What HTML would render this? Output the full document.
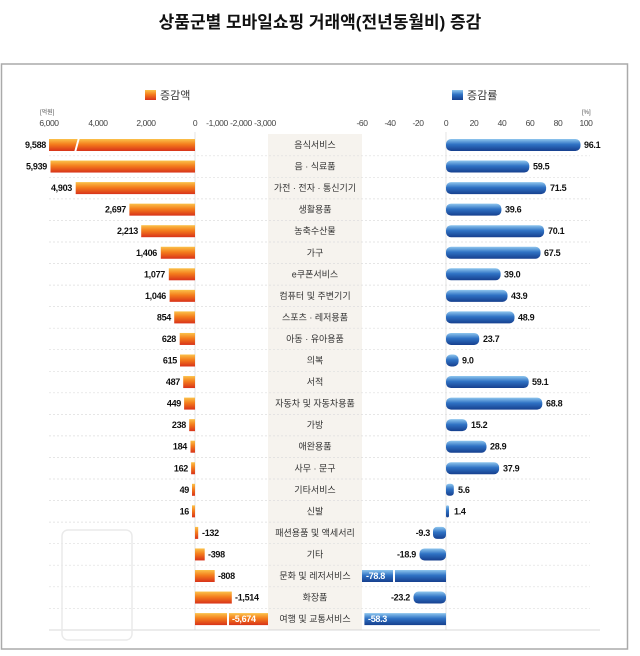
<!DOCTYPE html>
<html><head><meta charset="utf-8"><style>
body{margin:0;background:#fff;width:640px;height:656px;overflow:hidden}
svg{display:block;font-family:"Liberation Sans","Noto Sans CJK KR",sans-serif}
.v{font-size:9px;fill:#111;letter-spacing:-0.3px;font-weight:bold}
.c{font-size:9px;fill:#333;text-anchor:middle}
.t{font-size:8.5px;fill:#444;text-anchor:middle;letter-spacing:-0.4px}
</style></head><body>
<svg width="640" height="656" viewBox="0 0 640 656">
<defs>
<linearGradient id="o" x1="0" y1="0" x2="0" y2="1"><stop offset="0" stop-color="#fbc24a"/><stop offset="0.45" stop-color="#f47c1c"/><stop offset="1" stop-color="#d8321a"/></linearGradient>
<linearGradient id="b" x1="0" y1="0" x2="0" y2="1"><stop offset="0" stop-color="#8fc6ee"/><stop offset="0.45" stop-color="#2f72c4"/><stop offset="1" stop-color="#163f8e"/></linearGradient>
</defs>
<text x="320" y="28" text-anchor="middle" font-size="17" font-weight="bold" fill="#111">상품군별 모바일쇼핑 거래액(전년동월비) 증감</text>
<rect x="1.5" y="64" width="626" height="585" fill="none" stroke="#aaa" stroke-width="1.5"/>
<rect x="145" y="90" width="11" height="10" fill="url(#o)"/><text x="160" y="99" font-size="11" fill="#333">증감액</text>
<rect x="452" y="90" width="11" height="10" fill="url(#b)"/><text x="467" y="99" font-size="11" fill="#333">증감률</text>
<text x="40" y="114" font-size="6" fill="#555">[억원]</text><text x="582" y="114" font-size="6" fill="#555">[%]</text>
<g class="t" font-size="8">
<text x="49" y="126">6,000</text><text x="98" y="126">4,000</text><text x="146" y="126">2,000</text><text x="195" y="126">0</text><text x="217" y="126">-1,000</text><text x="241" y="126">-2,000</text><text x="265" y="126">-3,000</text>
<text x="362" y="126">-60</text><text x="390" y="126">-40</text><text x="418" y="126">-20</text><text x="446" y="126">0</text><text x="474" y="126">20</text><text x="502" y="126">40</text><text x="530" y="126">60</text><text x="558" y="126">80</text><text x="586" y="126">100</text>
</g>
<rect x="268" y="134" width="94" height="496" fill="#f6f3ee"/>
<g stroke="#ddd" stroke-width="0.8">
<line x1="195" y1="132" x2="195" y2="630"/><line x1="446" y1="132" x2="446" y2="630"/>
<line x1="49" y1="630" x2="600" y2="630" stroke="#ccc"/>
</g>
<g stroke="#ddd" stroke-width="0.7" stroke-dasharray="2,2">
<line x1="49" y1="155.8" x2="590" y2="155.8"/><line x1="49" y1="177.3" x2="590" y2="177.3"/><line x1="49" y1="198.9" x2="590" y2="198.9"/><line x1="49" y1="220.4" x2="590" y2="220.4"/><line x1="49" y1="242" x2="590" y2="242"/><line x1="49" y1="263.5" x2="590" y2="263.5"/><line x1="49" y1="285.1" x2="590" y2="285.1"/><line x1="49" y1="306.6" x2="590" y2="306.6"/><line x1="49" y1="328.2" x2="590" y2="328.2"/><line x1="49" y1="349.7" x2="590" y2="349.7"/><line x1="49" y1="371.3" x2="590" y2="371.3"/><line x1="49" y1="392.8" x2="590" y2="392.8"/><line x1="49" y1="414.4" x2="590" y2="414.4"/><line x1="49" y1="435.9" x2="590" y2="435.9"/><line x1="49" y1="457.5" x2="590" y2="457.5"/><line x1="49" y1="479" x2="590" y2="479"/><line x1="49" y1="500.6" x2="590" y2="500.6"/><line x1="49" y1="522.1" x2="590" y2="522.1"/><line x1="49" y1="543.7" x2="590" y2="543.7"/><line x1="49" y1="565.2" x2="590" y2="565.2"/><line x1="49" y1="586.8" x2="590" y2="586.8"/><line x1="49" y1="608.3" x2="590" y2="608.3"/>
</g>
<g fill="none" stroke="#eaeaea" stroke-width="1.5"><rect x="62" y="530" width="70" height="110" rx="6"/></g>

<g transform="translate(0,145)"><rect x="49" y="-6" width="146" height="12" fill="url(#o)"/><rect x="76" y="-7" width="2" height="14" fill="#fff" transform="skewX(-15)"/><text class="v" x="46" y="3" text-anchor="end">9,588</text><text class="c" x="315" y="3">음식서비스</text><rect x="446" y="-6" width="134.5" height="12" rx="5" fill="url(#b)"/><text class="v" x="584" y="3">96.1</text></g>
<g transform="translate(0,166.55)"><rect x="50.5" y="-6" width="144.5" height="12" fill="url(#o)"/><text class="v" x="47" y="3" text-anchor="end">5,939</text><text class="c" x="315" y="3">음 · 식료품</text><rect x="446" y="-6" width="83.3" height="12" rx="5" fill="url(#b)"/><text class="v" x="533" y="3">59.5</text></g>
<g transform="translate(0,188.1)"><rect x="75.7" y="-6" width="119.3" height="12" fill="url(#o)"/><text class="v" x="72" y="3" text-anchor="end">4,903</text><text class="c" x="315" y="3">가전 · 전자 · 통신기기</text><rect x="446" y="-6" width="100.1" height="12" rx="5" fill="url(#b)"/><text class="v" x="550" y="3">71.5</text></g>
<g transform="translate(0,209.65)"><rect x="129.4" y="-6" width="65.6" height="12" fill="url(#o)"/><text class="v" x="126" y="3" text-anchor="end">2,697</text><text class="c" x="315" y="3">생활용품</text><rect x="446" y="-6" width="55.4" height="12" rx="5" fill="url(#b)"/><text class="v" x="505" y="3">39.6</text></g>
<g transform="translate(0,231.2)"><rect x="141.2" y="-6" width="53.8" height="12" fill="url(#o)"/><text class="v" x="138" y="3" text-anchor="end">2,213</text><text class="c" x="315" y="3">농축수산물</text><rect x="446" y="-6" width="98.1" height="12" rx="5" fill="url(#b)"/><text class="v" x="548" y="3">70.1</text></g>
<g transform="translate(0,252.75)"><rect x="160.8" y="-6" width="34.2" height="12" fill="url(#o)"/><text class="v" x="157" y="3" text-anchor="end">1,406</text><text class="c" x="315" y="3">가구</text><rect x="446" y="-6" width="94.5" height="12" rx="5" fill="url(#b)"/><text class="v" x="544" y="3">67.5</text></g>
<g transform="translate(0,274.3)"><rect x="168.8" y="-6" width="26.2" height="12" fill="url(#o)"/><text class="v" x="165" y="3" text-anchor="end">1,077</text><text class="c" x="315" y="3">e쿠폰서비스</text><rect x="446" y="-6" width="54.6" height="12" rx="5" fill="url(#b)"/><text class="v" x="504" y="3">39.0</text></g>
<g transform="translate(0,295.85)"><rect x="169.6" y="-6" width="25.4" height="12" fill="url(#o)"/><text class="v" x="166" y="3" text-anchor="end">1,046</text><text class="c" x="315" y="3">컴퓨터 및 주변기기</text><rect x="446" y="-6" width="61.5" height="12" rx="5" fill="url(#b)"/><text class="v" x="511" y="3">43.9</text></g>
<g transform="translate(0,317.4)"><rect x="174.2" y="-6" width="20.8" height="12" fill="url(#o)"/><text class="v" x="171" y="3" text-anchor="end">854</text><text class="c" x="315" y="3">스포츠 · 레저용품</text><rect x="446" y="-6" width="68.5" height="12" rx="5" fill="url(#b)"/><text class="v" x="518" y="3">48.9</text></g>
<g transform="translate(0,338.95)"><rect x="179.7" y="-6" width="15.3" height="12" fill="url(#o)"/><text class="v" x="176" y="3" text-anchor="end">628</text><text class="c" x="315" y="3">아동 · 유아용품</text><rect x="446" y="-6" width="33.2" height="12" rx="5" fill="url(#b)"/><text class="v" x="483" y="3">23.7</text></g>
<g transform="translate(0,360.5)"><rect x="180" y="-6" width="15" height="12" fill="url(#o)"/><text class="v" x="177" y="3" text-anchor="end">615</text><text class="c" x="315" y="3">의복</text><rect x="446" y="-6" width="12.6" height="12" rx="5" fill="url(#b)"/><text class="v" x="462" y="3">9.0</text></g>
<g transform="translate(0,382.05)"><rect x="183.2" y="-6" width="11.8" height="12" fill="url(#o)"/><text class="v" x="180" y="3" text-anchor="end">487</text><text class="c" x="315" y="3">서적</text><rect x="446" y="-6" width="82.7" height="12" rx="5" fill="url(#b)"/><text class="v" x="532" y="3">59.1</text></g>
<g transform="translate(0,403.6)"><rect x="184.1" y="-6" width="10.9" height="12" fill="url(#o)"/><text class="v" x="181" y="3" text-anchor="end">449</text><text class="c" x="315" y="3">자동차 및 자동차용품</text><rect x="446" y="-6" width="96.3" height="12" rx="5" fill="url(#b)"/><text class="v" x="546" y="3">68.8</text></g>
<g transform="translate(0,425.15)"><rect x="189.2" y="-6" width="5.8" height="12" fill="url(#o)"/><text class="v" x="186" y="3" text-anchor="end">238</text><text class="c" x="315" y="3">가방</text><rect x="446" y="-6" width="21.3" height="12" rx="5" fill="url(#b)"/><text class="v" x="471" y="3">15.2</text></g>
<g transform="translate(0,446.7)"><rect x="190.5" y="-6" width="4.5" height="12" fill="url(#o)"/><text class="v" x="187" y="3" text-anchor="end">184</text><text class="c" x="315" y="3">애완용품</text><rect x="446" y="-6" width="40.5" height="12" rx="5" fill="url(#b)"/><text class="v" x="490" y="3">28.9</text></g>
<g transform="translate(0,468.25)"><rect x="191.1" y="-6" width="3.9" height="12" fill="url(#o)"/><text class="v" x="188" y="3" text-anchor="end">162</text><text class="c" x="315" y="3">사무 · 문구</text><rect x="446" y="-6" width="53.1" height="12" rx="5" fill="url(#b)"/><text class="v" x="503" y="3">37.9</text></g>
<g transform="translate(0,489.8)"><rect x="192" y="-6" width="3" height="12" fill="url(#o)"/><text class="v" x="189" y="3" text-anchor="end">49</text><text class="c" x="315" y="3">기타서비스</text><rect x="446" y="-6" width="7.8" height="12" rx="3" fill="url(#b)"/><text class="v" x="458" y="3">5.6</text></g>
<g transform="translate(0,511.35)"><rect x="192" y="-6" width="3" height="12" fill="url(#o)"/><text class="v" x="189" y="3" text-anchor="end">16</text><text class="c" x="315" y="3">신발</text><rect x="446" y="-6" width="3" height="12" rx="1.5" fill="url(#b)"/><text class="v" x="454" y="3">1.4</text></g>
<g transform="translate(0,532.9)"><rect x="195" y="-6" width="3.2" height="12" fill="url(#o)"/><text class="v" x="202" y="3">-132</text><text class="c" x="315" y="3">패션용품 및 액세서리</text><rect x="433" y="-6" width="13" height="12" rx="4" fill="url(#b)"/><text class="v" x="430" y="3" text-anchor="end">-9.3</text></g>
<g transform="translate(0,554.45)"><rect x="195" y="-6" width="9.7" height="12" fill="url(#o)"/><text class="v" x="208" y="3">-398</text><text class="c" x="315" y="3">기타</text><rect x="419.5" y="-6" width="26.5" height="12" rx="5" fill="url(#b)"/><text class="v" x="416" y="3" text-anchor="end">-18.9</text></g>
<g transform="translate(0,576)"><rect x="195" y="-6" width="19.7" height="12" fill="url(#o)"/><text class="v" x="218" y="3">-808</text><text class="c" x="315" y="3">문화 및 레저서비스</text><rect x="362" y="-6" width="84" height="12" fill="url(#b)"/><rect x="393" y="-7" width="2" height="14" fill="#fff"/><text class="v" x="366" y="3" style="fill:#fff">-78.8</text></g>
<g transform="translate(0,597.55)"><rect x="195" y="-6" width="36.8" height="12" fill="url(#o)"/><text class="v" x="235" y="3">-1,514</text><text class="c" x="315" y="3">화장품</text><rect x="413.5" y="-6" width="32.5" height="12" rx="5" fill="url(#b)"/><text class="v" x="410" y="3" text-anchor="end">-23.2</text></g>
<g transform="translate(0,619.1)"><rect x="195" y="-6" width="73" height="12" fill="url(#o)"/><rect x="227" y="-7" width="2" height="14" fill="#fff"/><text class="v" x="232" y="3" style="fill:#fff">-5,674</text><text class="c" x="315" y="3">여행 및 교통서비스</text><rect x="364.4" y="-6" width="81.6" height="12" fill="url(#b)"/><text class="v" x="368" y="3" style="fill:#fff">-58.3</text></g>
</svg>
</body></html>
